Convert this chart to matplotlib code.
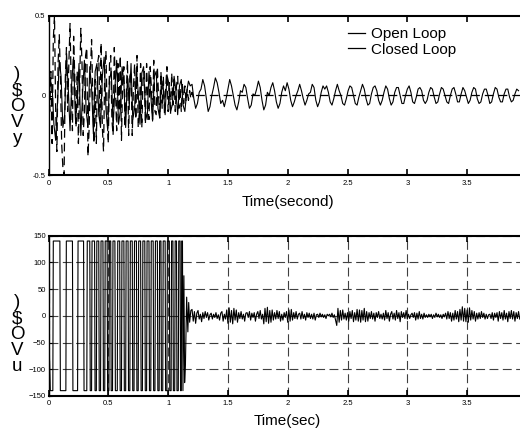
import numpy as np
import matplotlib
matplotlib.use("Agg")
import matplotlib.pyplot as plt
from matplotlib import font_manager
from matplotlib.lines import Line2D

# ---------------- data ----------------
# top plot: displacement y (sampled every dt_open / dt_closed seconds)
dt_open = 0.015
open_loop_y = [
    0.0, 0.09, 0.06, -0.18, -0.28, -0.05, 0.22, 0.12, -0.2, -0.12,
    0.25, 0.05, -0.22, 0.1, 0.24, -0.15, -0.05, 0.2, -0.25, 0.02,
    0.22, -0.1, -0.2, 0.18, 0.05, -0.24, 0.15, 0.2, -0.12, -0.2,
    0.12, 0.24, -0.08, -0.22, 0.1, 0.15, -0.2, 0.05, 0.22, -0.18,
    -0.1, 0.18, 0.08, -0.2, 0.12, -0.05, 0.2, -0.15, -0.08, 0.16,
    0.02, -0.18, 0.14, 0.18, -0.1, -0.15, 0.15, 0.0, -0.16, 0.12,
    0.15, -0.08, -0.14, 0.1, 0.04, -0.12, 0.13, 0.08, -0.1, -0.06,
    0.12, 0.03, -0.12, 0.06, 0.1, -0.06, -0.1, 0.02, 0.09, 0.06,
    0.07, -0.02, -0.08, -0.05, 0.02, 0.04, 0.1, 0.06, -0.02, -0.1,
    -0.07, 0.0, 0.05, 0.11, 0.08, 0.02, -0.05, -0.03, -0.07, -0.02,
    0.04, 0.1, 0.06, 0.0, -0.06, -0.09, -0.04, 0.03, 0.02, 0.07,
    0.05, -0.02, -0.08, -0.06, 0.01, 0.0, 0.04, 0.09, 0.05, -0.03,
    -0.09, -0.06, 0.02, 0.0, 0.05, 0.08, 0.03, -0.04, -0.08, -0.05,
    0.02, 0.06, 0.03, 0.08, 0.04, -0.03, -0.07, -0.04, 0.0, 0.03,
    0.07, 0.03, -0.02, -0.06, -0.03, 0.01, 0.02, 0.07, 0.05, -0.03,
    -0.07, -0.04, 0.02, 0.06, 0.04, 0.06, 0.02, -0.04, -0.06, -0.02,
    0.03, 0.07, 0.03, 0.0, -0.05, -0.06, -0.02, 0.03, 0.06, 0.05,
    0.0, -0.05, -0.06, -0.01, 0.03, 0.07, 0.04, -0.02, -0.06, -0.05,
    0.01, 0.05, 0.06, 0.03, -0.03, -0.06, -0.03, 0.02, 0.06, 0.04,
    -0.02, -0.06, -0.04, 0.02, 0.05, 0.05, 0.0, -0.05, -0.05, 0.0,
    0.04, 0.06, 0.02, -0.04, -0.05, -0.01, 0.04, 0.05, 0.03, -0.03,
    -0.05, -0.03, 0.02, 0.05, 0.04, -0.01, -0.05, -0.04, 0.01, 0.05,
    0.04, 0.0, -0.04, -0.05, 0.0, 0.04, 0.05, 0.01, -0.04, -0.04,
    0.01, 0.05, 0.03, -0.01, -0.05, -0.03, 0.02, 0.05, 0.04, -0.02,
    -0.05, -0.04, 0.01, 0.04, 0.04, 0.0, -0.05, -0.04, 0.01, 0.05,
    0.04, -0.01, -0.04, -0.04, 0.01, 0.04, 0.04, -0.01, -0.04, -0.03,
    0.01, 0.04, 0.03,
]

dt_closed = 0.01
closed_loop_y = [
    0.0, -0.1, 0.15, -0.3, 0.35, 0.5, -0.1, -0.35, 0.2, 0.38,
    0.1, -0.3, -0.45, -0.5, 0.1, 0.3, -0.1, 0.2, 0.45, 0.05,
    -0.22, 0.37, 0.1, -0.2, 0.15, -0.3, 0.05, 0.42, 0.2, -0.25,
    -0.1, 0.25, 0.3, -0.38, -0.2, 0.15, 0.35, 0.0, -0.3, 0.1,
    -0.3, 0.2, 0.25, -0.15, 0.33, -0.2, -0.35, 0.15, 0.28, -0.1,
    -0.3, 0.2, 0.25, -0.15, -0.25, 0.3, 0.05, -0.22, 0.2, -0.1,
    0.25, -0.28, 0.1, 0.18, -0.2, 0.0, 0.22, -0.25, 0.12, 0.15,
    -0.25, 0.05, 0.2, -0.15, 0.25, -0.2, -0.1, 0.2, -0.2, 0.1,
    0.15, -0.18, 0.2, -0.05, -0.15, 0.18, 0.05, -0.15, 0.22, -0.1,
    -0.12, 0.18, 0.0, -0.14, 0.15, -0.08, 0.12, -0.12, 0.05, 0.18,
    -0.1, 0.08, -0.12, 0.14, -0.06, 0.1, -0.1, 0.06, 0.12, -0.08,
    0.05, -0.1, 0.08, -0.05, 0.06, -0.04, 0.04, -0.03, 0.03, -0.02,
    0.02, -0.01, 0.01, 0.0, 0.0, 0.0, 0.0, 0.0, 0.0, 0.0,
]
closed_loop_end_t = 4.0  # stays at zero until the end

# bottom plot: control voltage u
u_sat = 140
u_start_t = [0.0, 0.015]
u_start_v = [0, -140]
# switching instants of the saturated control (first edge rises)
u_switch_t = [
    0.036, 0.095, 0.145, 0.2, 0.243, 0.293,
    0.32, 0.345, 0.36, 0.385, 0.40, 0.42, 0.435, 0.455, 0.47, 0.49,
    0.505, 0.52, 0.535, 0.555, 0.575, 0.595, 0.61, 0.63, 0.645, 0.665,
    0.68, 0.70, 0.715, 0.735, 0.75, 0.77, 0.785, 0.805, 0.82, 0.84,
    0.855, 0.875, 0.89, 0.91, 0.925, 0.94, 0.955, 0.975, 0.99, 1.01,
    1.025, 1.04, 1.055, 1.07, 1.085, 1.1, 1.11, 1.12,
]
u_tail_t = [1.132, 1.138, 1.145, 1.155, 1.165, 1.172, 1.18, 1.19]
u_tail_v = [75, -125, -88, 35, -30, 25, -12, 10]
noise_t0 = 1.2
noise_dt = 0.01
u_noise = [
    12, -10, 8, -14, 5, 10, -6, 3, -11, 6,
    -5, 8, -3, 6, -8, 2, 5, -6, 3, -3,
    6, -5, 2, -8, 5, 8, -10, 3, -6, 11,
    -14, 15, -12, 10, -15, 14, -8, 11, -12, 6,
    -5, 8, -6, 3, -10, 5, 6, -3, 8, -8,
    5, -3, 6, -10, 3, 8, -5, 10, -6, 3,
    -15, 14, -11, 16, -14, 10, -12, 11, -8, 6,
    -6, 10, -5, 8, -10, 3, -8, 6, -3, 8,
    -12, 11, -10, 12, -8, 6, -5, 8, -6, 3,
    5, -6, 8, -5, 3, -8, 6, -3, 5, -5,
    3, -6, 5, -8, 2, 3, -3, 5, -2, 3,
    -3, 2, -5, 3, 0, 3, -2, 5, -3, 2,
    -8, -18, 14, -12, 10, -8, 11, -6, 5, -8,
    6, -10, 8, -5, 10, -11, 6, -8, 12, -10,
    11, -12, 10, -8, 14, -11, 8, -10, 6, -5,
    8, -6, 5, -10, 6, -3, 8, -5, 3, -6,
    5, -8, 10, -5, 6, -10, 3, 8, -6, 5,
    -8, 10, -5, 6, -11, 8, -3, 6, -5, 10,
    -6, 3, -5, 2, 5, -3, 6, -8, 5, -6,
    8, -5, 3, -6, 5, -3, 2, -3, 3, -2,
    3, -5, 2, -3, 5, -2, 3, -3, 2, -5,
    3, -2, 5, -6, 8, -5, 6, -10, 5, -8,
    10, -6, 8, -11, 12, -8, 17, -10, 14, -11,
    11, -12, 15, -8, 10, -6, 8, -10, 5, -6,
    6, -5, 8, -3, 5, -6, 3, -5, 2, 3,
    -5, 6, -8, 5, -3, 6, -10, 8, -5, 6,
    -8, 10, -6, 5, -11, 8, -5, 10, -6, 8,
    -10, 6, -5, 8, -6,
]

x_ticks = [0, 0.5, 1, 1.5, 2, 2.5, 3, 3.5]
x_tick_labels = ["0", "0.5", "1", "1.5", "2", "2.5", "3", "3.5"]
y1_ticks = [-0.5, 0, 0.5]
y2_ticks = [-150, -100, -50, 0, 50, 100, 150]


# ---------------- fonts ----------------
def pick_font(name, fallback):
    try:
        font_manager.findfont(font_manager.FontProperties(family=name),
                              fallback_to_default=False)
        return name
    except Exception:
        return fallback


main_font = pick_font("Liberation Sans", "DejaVu Sans")
tick_font = pick_font("Liberation Sans Narrow", main_font)
plt.rcParams["font.family"] = [main_font, "DejaVu Sans"]

# ---------------- build signals ----------------
t_open = np.arange(len(open_loop_y)) * dt_open
t_closed = np.append(np.arange(len(closed_loop_y)) * dt_closed, closed_loop_end_t)
y_closed = np.append(closed_loop_y, 0.0)

ramp = 0.004
ut = list(u_start_t)
uv = list(u_start_v)
level = -u_sat
for ts in u_switch_t:
    ut += [ts, ts + ramp]
    uv += [level, -level]
    level = -level
ut += u_tail_t
uv += u_tail_v
ut += list(noise_t0 + np.arange(len(u_noise)) * noise_dt)
uv += u_noise

# ---------------- figure ----------------
fig = plt.figure(figsize=(5.2, 4.3), dpi=100)
ax1 = fig.add_axes([0.0933, 0.5919, 0.920, 0.372])
ax2 = fig.add_axes([0.0933, 0.0791, 0.920, 0.3728])

ax1.plot(t_open, open_loop_y, color="k", lw=0.8)
ax1.plot(t_closed, y_closed, color="k", lw=0.9, dashes=(7, 4))
ax1.set_xlim(0, 4)
ax1.set_ylim(-0.5, 0.5)
ax1.set_yticks(y1_ticks)
ax1.set_yticklabels(["-0.5", "0", "0.5"])

ax2.plot(ut, uv, color="k", lw=0.8)
ax2.set_xlim(0, 4)
ax2.set_ylim(-150, 150)
ax2.set_yticks(y2_ticks)
ax2.grid(True, color="0.25", lw=0.8, dashes=(8, 4))

for ax in (ax1, ax2):
    ax.set_xticks(x_ticks)
    ax.set_xticklabels(x_tick_labels)
    ax.tick_params(direction="in", top=True, length=4, width=1.2,
                   labelsize=5.5, pad=3)
    ax.tick_params(axis="y", length=2, width=0.8, pad=2)
    for lab in ax.get_xticklabels() + ax.get_yticklabels():
        lab.set_family(tick_font)
    for side in ("top", "bottom"):
        ax.spines[side].set_linewidth(1.5)
    ax.spines["left"].set_linewidth(1.0)

ax1.set_xlabel("Time(second)", fontsize=11, labelpad=6)
ax2.set_xlabel("Time(sec)", fontsize=11, labelpad=5)

handles = [Line2D([], [], color="k", lw=0.9), Line2D([], [], color="k", lw=0.9)]
fig.legend(handles, ["Open Loop", "Closed Loop"], loc="upper left",
           bbox_to_anchor=(0.655, 0.955), frameon=False, fontsize=11,
           handlelength=1.1, handletextpad=0.4, labelspacing=0.1, borderpad=0)

fig.text(0.033, 0.752, ")\n$\nO\nV\ny", ha="center", va="center",
         fontsize=13.5, linespacing=0.92)
fig.text(0.033, 0.222, ")\n$\nO\nV\nu", ha="center", va="center",
         fontsize=13.5, linespacing=0.92)

fig.savefig("out.png", dpi=100)
